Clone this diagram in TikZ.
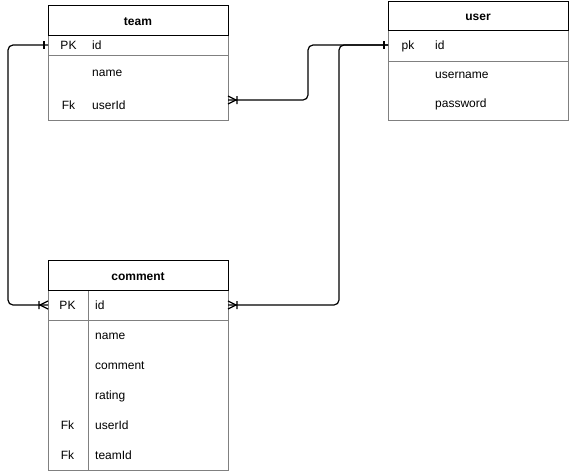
\documentclass[tikz,border=0pt]{standalone}
\usepackage{fontspec}
\setmainfont{Liberation Sans}
\begin{document}
\begin{tikzpicture}[x=1pt,y=-1pt,
    every node/.style={font=\fontsize{12}{14}\selectfont},
    hdbox/.style={draw=black,line width=1pt},
    rowline/.style={draw=black!50,line width=1pt},
    title/.style={font=\fontsize{12}{14}\selectfont\bfseries,anchor=base,inner sep=0pt},
    keytxt/.style={anchor=base,inner sep=0pt},
    fldtxt/.style={anchor=base west,inner sep=0pt},
    rowbox/.style={minimum width=180pt,minimum height=20pt,inner sep=0pt,outer sep=0pt},
    link/.style={line width=1.2pt,rounded corners=5pt},
    oneend/.pic={\draw[line width=1.2pt] (-4,-4) -- (-4,4);},
    manyend/.pic={\draw[line width=1.2pt] (0,-4) -- (-8,0) -- (0,4) (-9,-4) -- (-9,4);}]
  \useasboundingbox (0,0) rectangle (569,471);
  \pgfmathsetmacro{\tw}{180}
  \pgfmathsetmacro{\ax}{48}
   \pgfmathsetmacro{\bx}{388}
  \pgfmathsetmacro{\ay}{5}
  \pgfmathsetmacro{\by}{1}
  \pgfmathsetmacro{\cy}{260}
  \draw[rowline] (\ax,35) rectangle (\ax+\tw,120);
   \draw[rowline] (\ax,55) -- (\ax+\tw,55);
  \draw[hdbox] (\ax,\ay) rectangle (\ax+\tw,35);
  \node[title] (team) at (\ax+90,25.5) {team};
  \foreach \c/\b/\k/\f [count=\i] in {45/49/PK/id,71.5/76//name,100/109.5/Fk/userId} {
    \node[rowbox] (team-\i) at (\ax+90,\c) {};
    \node[keytxt] (team-k\i) at (68.5,\b) {\k};
    \node[fldtxt] (team-f\i) at (92,\b) {\f};
  }
  \draw[rowline] (\bx,30) rectangle (\bx+\tw,120);
   \draw[rowline] (\bx,61) -- (\bx+\tw,61);
  \draw[hdbox] (\bx,\by) rectangle (\bx+\tw,30);
  \node[title] (user) at (\bx+90,20) {user};
  \foreach \c/\b/\k/\f [count=\i] in {45/49/pk/id,74/78.5//username,104/107.5//password} {
    \node[rowbox] (user-\i) at (\bx+90,\c) {};
    \node[keytxt] (user-k\i) at (408,\b) {\k};
    \node[fldtxt] (user-f\i) at (435,\b) {\f};
  }
  \draw[rowline] (\ax,290) rectangle (\ax+\tw,470);
   \draw[rowline] (\ax,320) -- (\ax+\tw,320);
   \draw[rowline] (88,290) -- (88,470);
  \draw[hdbox] (\ax,\cy) rectangle (\ax+\tw,290);
  \node[title] (comment) at (\ax+90,280) {comment};
  \foreach \k/\f [count=\i] in {PK/id,/name,/comment,/rating,Fk/userId,Fk/teamId} {
    \node[rowbox] (comment-\i) at (\ax+90,275+30*\i) {};
    \node[keytxt] (comment-k\i) at (67.5,279.5+30*\i) {\k};
    \node[fldtxt] (comment-f\i) at (95,279.5+30*\i) {\f};
  }
  \draw[link] (team-1.west) -- ++(-40,0) |- (comment-1.west);
  \draw[link] (team-3.east) -- ++(80,0) |- (user-1.west);
  \draw[link] (user-1.west) -- ++(-49,0) |- (comment-1.east);
  \pic at (team-1.west) {oneend};
   \pic at (user-1.west) {oneend};
  \pic at (comment-1.west) {manyend};
  \pic[rotate=180] at (team-3.east) {manyend};
  \pic[rotate=180] at (comment-1.east) {manyend};
\end{tikzpicture}
\end{document}
